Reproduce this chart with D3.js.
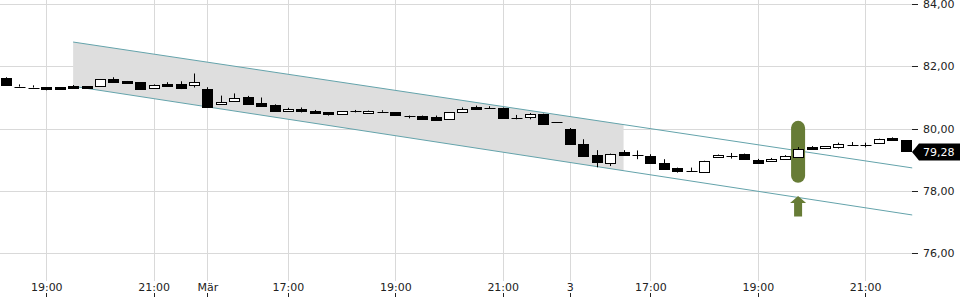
<!DOCTYPE html>
<html>
<head>
<meta charset="utf-8">
<script src="https://cdn.jsdelivr.net/npm/d3@7"></script>
<style>
  html, body { margin: 0; padding: 0; background: #fff; }
  svg { display: block; }
  text { font-family: "DejaVu Sans", sans-serif; }
</style>
</head>
<body>
<svg id="chart" width="960" height="300"></svg>
<script>
// ---- data ----
const opens  = [81.64,81.35,81.32,81.33,81.33,81.36,81.36,81.35,81.59,81.53,81.49,81.31,81.43,81.44,81.39,
                81.27,80.78,80.88,81.02,80.82,80.75,80.55,80.62,80.56,80.52,80.45,80.56,80.52,80.54,80.53,
                80.42,80.42,80.37,80.29,80.52,80.70,80.66,80.65,80.34,80.36,80.48,80.21,
                79.98,79.52,79.17,78.91,79.24,79.14,79.13,78.91,78.75,78.63,78.62,79.10,79.13,79.20,
                79.00,78.95,79.02,79.10,79.41,79.36,79.39,79.46,79.49,79.56,79.69,79.62];
const highs  = [81.65,81.42,81.39,81.33,81.33,81.40,81.36,81.59,81.65,81.53,81.49,81.42,81.49,81.52,81.77,
                81.33,81.06,81.13,81.05,81.00,80.78,80.67,80.68,80.60,80.52,80.56,80.60,80.58,80.59,80.53,
                80.42,80.42,80.42,80.52,80.68,80.74,80.72,80.68,80.44,80.50,80.48,80.21,
                80.02,79.66,79.31,79.20,79.31,79.30,79.18,79.02,78.75,78.75,78.97,79.17,79.22,79.20,
                79.03,79.06,79.15,79.41,79.44,79.43,79.55,79.57,79.55,79.68,79.72,79.62];
const lows   = [81.39,81.35,81.32,81.23,81.28,81.31,81.31,81.35,81.50,81.48,81.27,81.31,81.36,81.27,81.32,
                80.68,80.78,80.88,80.76,80.71,80.55,80.55,80.52,80.50,80.42,80.45,80.52,80.52,80.54,80.42,
                80.33,80.30,80.28,80.29,80.52,80.63,80.66,80.34,80.30,80.30,80.15,80.21,
                79.51,79.15,78.76,78.80,79.13,79.02,78.91,78.72,78.59,78.63,78.62,79.10,79.04,79.01,
                78.91,78.95,79.02,79.10,79.35,79.36,79.36,79.46,79.40,79.56,79.62,79.28];
const closes = [81.40,81.35,81.32,81.27,81.28,81.31,81.31,81.59,81.50,81.48,81.27,81.40,81.36,81.32,81.49,
                80.68,80.85,80.97,80.81,80.71,80.55,80.62,80.56,80.50,80.44,80.56,80.56,80.58,80.54,80.42,
                80.42,80.33,80.28,80.52,80.62,80.63,80.66,80.34,80.34,80.46,80.15,80.21,
                79.51,79.15,78.93,79.20,79.13,79.14,78.91,78.72,78.65,78.63,78.97,79.17,79.13,79.04,
                78.91,79.03,79.11,79.36,79.35,79.43,79.50,79.46,79.49,79.68,79.62,79.28];

const xTickIndex  = [3, 11, 15, 21, 29, 37, 42, 48, 56, 64];
const xTickLabels = ["19:00","21:00","Mär","17:00","19:00","21:00","3","17:00","19:00","21:00"];
const yTicks = [76, 78, 80, 82, 84];
const yTickLabels = ["76,00","78,00","80,00","82,00","84,00"];

// trend channel (index, value)
const channelIndex = [5, 67.5];
const channelUpper = [82.78, 78.74];
const channelLower = [81.36, 77.23];
const channelFillEnd = 46;

// signal marker
const markerIndex = 59;
const markerRange = [80.25, 78.26];
const arrowRange = [77.84, 77.18];

const lastPrice = 79.28;
const lastPriceLabel = "79,28";

// ---- scales ----
const svg = d3.select("#chart");
const W = 960, H = 300;
const plotRight = 912;
const x = d3.scaleLinear().domain([0, opens.length - 1]).range([6, 905.5]);
const y = d3.scaleLinear().domain([76, 84]).range([253.3, 4]);
const crisp = v => Math.round(v) + 0.5;

// ---- grid ----
const grid = svg.append("g");
grid.selectAll("line.h").data(yTicks).join("line")
  .attr("x1", 0).attr("x2", plotRight)
  .attr("y1", d => crisp(y(d))).attr("y2", d => crisp(y(d)))
  .attr("stroke", "#d9d9d9").attr("stroke-width", 1);
grid.selectAll("line.v").data(xTickIndex).join("line")
  .attr("x1", d => crisp(x(d))).attr("x2", d => crisp(x(d)))
  .attr("y1", 0).attr("y2", 281)
  .attr("stroke", "#d9d9d9").attr("stroke-width", 1);

// ---- channel ----
function lineVal(arr, i) {
  const t = (i - channelIndex[0]) / (channelIndex[1] - channelIndex[0]);
  return arr[0] + t * (arr[1] - arr[0]);
}
const fillPts = [
  [x(channelIndex[0]), y(channelUpper[0])],
  [x(channelFillEnd), y(lineVal(channelUpper, channelFillEnd))],
  [x(channelFillEnd), y(lineVal(channelLower, channelFillEnd))],
  [x(channelIndex[0]), y(channelLower[0])]
];
svg.append("path")
  .attr("d", d3.line()(fillPts) + "Z")
  .attr("fill", "#dedede");
[channelUpper, channelLower].forEach(arr => {
  svg.append("line")
    .attr("x1", x(channelIndex[0])).attr("y1", y(arr[0]))
    .attr("x2", x(channelIndex[1])).attr("y2", y(arr[1]))
    .attr("stroke", "#64a3ab").attr("stroke-width", 1);
});

// ---- marker ----
const green = "#677c36";
const mx = x(markerIndex);
svg.append("rect")
  .attr("x", mx - 7).attr("width", 14)
  .attr("y", y(markerRange[0])).attr("height", y(markerRange[1]) - y(markerRange[0]))
  .attr("rx", 7).attr("ry", 7)
  .attr("fill", green);
const aTop = y(arrowRange[0]), aBot = y(arrowRange[1]);
svg.append("path")
  .attr("d", `M${mx},${aTop} L${mx + 8},${aTop + 7} L${mx + 4},${aTop + 7} L${mx + 4},${aBot} L${mx - 4},${aBot} L${mx - 4},${aTop + 7} L${mx - 8},${aTop + 7} Z`)
  .attr("fill", green);

// ---- candles ----
const idx = d3.range(opens.length);
const candles = svg.append("g");
candles.selectAll("line.wick").data(idx).join("line")
  .attr("x1", i => crisp(x(i))).attr("x2", i => crisp(x(i)))
  .attr("y1", i => y(highs[i])).attr("y2", i => y(lows[i]))
  .attr("stroke", "#000").attr("stroke-width", 1);
candles.selectAll("rect.body").data(idx.filter(i => opens[i] !== closes[i])).join("rect")
  .attr("x", i => crisp(x(i)) - 5)
  .attr("width", 10)
  .attr("y", i => Math.round(y(Math.max(opens[i], closes[i]))) + 0.5)
  .attr("height", i => Math.max(1, Math.round(y(Math.min(opens[i], closes[i])) - y(Math.max(opens[i], closes[i])))))
  .attr("fill", i => closes[i] > opens[i] ? "#fff" : "#000")
  .attr("stroke", "#000").attr("stroke-width", 1);
candles.selectAll("line.doji").data(idx.filter(i => opens[i] === closes[i])).join("line")
  .attr("x1", i => crisp(x(i)) - 5).attr("x2", i => crisp(x(i)) + 6)
  .attr("y1", i => crisp(y(opens[i]))).attr("y2", i => crisp(y(opens[i])))
  .attr("stroke", "#000").attr("stroke-width", 1);

// ---- y axis ----
const yAxis = svg.append("g");
yAxis.selectAll("line").data(yTicks).join("line")
  .attr("x1", plotRight).attr("x2", plotRight + 6)
  .attr("y1", d => crisp(y(d))).attr("y2", d => crisp(y(d)))
  .attr("stroke", "#222");
yAxis.selectAll("text").data(yTicks).join("text")
  .attr("x", 923).attr("y", d => y(d)).attr("dy", "0.36em")
  .attr("font-size", 11).attr("fill", "#222")
  .text((d, i) => yTickLabels[i]);

// ---- x axis ----
const xAxis = svg.append("g");
xAxis.selectAll("line").data(xTickIndex).join("line")
  .attr("x1", d => crisp(x(d))).attr("x2", d => crisp(x(d)))
  .attr("y1", 293).attr("y2", 297)
  .attr("stroke", "#222");
xAxis.selectAll("text").data(xTickIndex).join("text")
  .attr("x", d => x(d) + 0.5).attr("y", 291)
  .attr("text-anchor", "middle")
  .attr("font-size", 11).attr("fill", "#222")
  .text((d, i) => xTickLabels[i]);

// ---- last price label ----
const ly = y(lastPrice) + 1;
svg.append("path")
  .attr("d", `M${plotRight},${ly} L${plotRight + 7},${ly - 8.5} L${W},${ly - 8.5} L${W},${ly + 8.5} L${plotRight + 7},${ly + 8.5} Z`)
  .attr("fill", "#000");
svg.append("text")
  .attr("x", 923).attr("y", ly).attr("dy", "0.36em")
  .attr("font-size", 11).attr("fill", "#fff")
  .text(lastPriceLabel);
</script>
</body>
</html>
